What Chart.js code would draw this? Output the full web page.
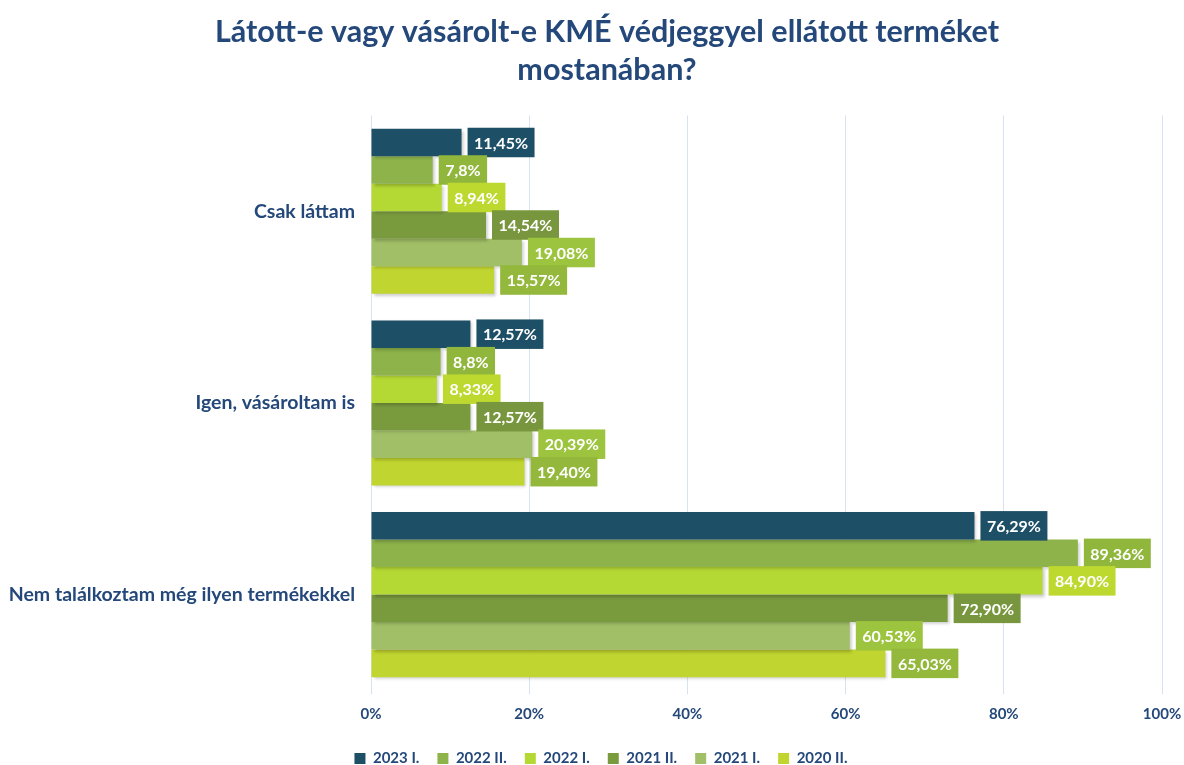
<!DOCTYPE html>
<html>
<head>
<meta charset="utf-8">
<script src="https://cdn.jsdelivr.net/npm/chart.js@4.4.1/dist/chart.umd.min.js"></script>
<style>
  html, body { margin: 0; padding: 0; background: #ffffff; }
  #wrap { width: 1184px; height: 765px; position: relative; }
</style>
</head>
<body>
<div id="wrap"><canvas id="c" width="1184" height="765"></canvas></div>
<script>
const titleLines = ["Látott-e vagy vásárolt-e KMÉ védjeggyel ellátott terméket", "mostanában?"];
const categories = ["Csak láttam", "Igen, vásároltam is", "Nem találkoztam még ilyen termékekkel"];
const xTicks = [0, 20, 40, 60, 80, 100];

const seriesNames = ["2023 I.", "2022 II.", "2022 I.", "2021 II.", "2021 I.", "2020 II."];
const s2023I  = [11.45, 12.57, 76.29];
const s2022II = [7.8, 8.8, 89.36];
const s2022I  = [8.94, 8.33, 84.90];
const s2021II = [14.54, 12.57, 72.90];
const s2021I  = [19.08, 20.39, 60.53];
const s2020II = [15.57, 19.40, 65.03];

const l2023I  = ["11,45%", "12,57%", "76,29%"];
const l2022II = ["7,8%", "8,8%", "89,36%"];
const l2022I  = ["8,94%", "8,33%", "84,90%"];
const l2021II = ["14,54%", "12,57%", "72,90%"];
const l2021I  = ["19,08%", "20,39%", "60,53%"];
const l2020II = ["15,57%", "19,40%", "65,03%"];

const barColors   = ["#1D4F66", "#8DB34A", "#B5D934", "#7A9A3E", "#A1BF66", "#C0D52F"];
const labelColors = ["#1D4F66", "#90B73C", "#BDD930", "#78963D", "#9DC43E", "#93B83B"];

const allValues = [s2023I, s2022II, s2022I, s2021II, s2021I, s2020II];
const allLabels = [l2023I, l2022II, l2022I, l2021II, l2021I, l2020II];

const FONT = "Lato";
const DARK = "#24487A";
const PAD_LEFT = 10;

const datasets = seriesNames.map((n, i) => ({
  label: n,
  data: allValues[i],
  backgroundColor: barColors[i],
  borderWidth: 0,
  valueLabels: allLabels[i],
  labelColor: labelColors[i],
  categoryPercentage: 0.861,
  barPercentage: 1.0
}));

const shiftPlugin = {
  id: 'shiftBlocks',
  afterLayout(chart) {
    if (chart.titleBlock) chart.titleBlock.left += 42;
    if (chart.legend) chart.legend.left += 30;
  }
};

const shadowPlugin = {
  id: 'barShadow',
  beforeDatasetsDraw(chart) {
    const ctx = chart.ctx;
    ctx.save();
    ctx.shadowColor = 'rgba(0,0,0,0.22)';
    ctx.shadowBlur = 3;
    ctx.shadowOffsetX = 2;
    ctx.shadowOffsetY = 2;
  },
  afterDatasetsDraw(chart) {
    chart.ctx.restore();
  }
};

const labelPlugin = {
  id: 'valueBoxes',
  afterDatasetsDraw(chart) {
    const ctx = chart.ctx;
    ctx.save();
    ctx.font = "bold 16px " + FONT;
    ctx.textAlign = "center";
    ctx.textBaseline = "middle";
    chart.data.datasets.forEach((ds, di) => {
      const meta = chart.getDatasetMeta(di);
      meta.data.forEach((bar, j) => {
        const txt = ds.valueLabels[j];
        const w = ctx.measureText(txt).width + 13;
        const h = bar.height + 2;
        const x0 = bar.x + 6;
        const y0 = bar.y - h / 2;
        ctx.fillStyle = ds.labelColor;
        ctx.fillRect(x0, y0, w, h);
        ctx.fillStyle = "#ffffff";
        ctx.fillText(txt, x0 + w / 2, bar.y + 1);
      });
    });
    ctx.restore();
  }
};

new Chart(document.getElementById('c'), {
  type: 'bar',
  data: { labels: categories, datasets },
  options: {
    indexAxis: 'y',
    responsive: false,
    animation: false,
    layout: { padding: { left: PAD_LEFT, right: 22, top: 0, bottom: -11 } },
    plugins: {
      title: {
        display: true,
        text: titleLines,
        color: DARK,
        font: { family: FONT, size: 30.5, weight: 'bold', lineHeight: 1.22 },
        padding: { top: 14, bottom: 27 }
      },
      legend: {
        position: 'bottom',
        labels: {
          boxWidth: 11,
          boxHeight: 11,
          color: DARK,
          padding: 18,
          font: { family: FONT, size: 15, weight: 'bold' }
        }
      },
      tooltip: { enabled: false }
    },
    scales: {
      x: {
        min: 0,
        max: 100,
        afterBuildTicks(scale) { scale.ticks = xTicks.map(v => ({ value: v })); },
        afterFit(scale) { scale.paddingLeft = 0; scale.paddingRight = 0; },
        ticks: {
          callback: v => v + '%',
          color: DARK,
          font: { family: FONT, size: 15, weight: 'bold', lineHeight: 0.57 },
          padding: 15
        },
        grid: { color: '#D8E2F0', tickLength: 4, drawTicks: true },
        border: { display: false }
      },
      y: {
        grid: { display: false },
        border: { display: false },
        ticks: {
          color: DARK,
          font: { family: FONT, size: 19.5, weight: 'bold' },
          padding: 8
        },
        afterFit(scale) { scale.width = 371 - PAD_LEFT; }
      }
    }
  },
  plugins: [shiftPlugin, shadowPlugin, labelPlugin]
});
</script>
</body>
</html>
